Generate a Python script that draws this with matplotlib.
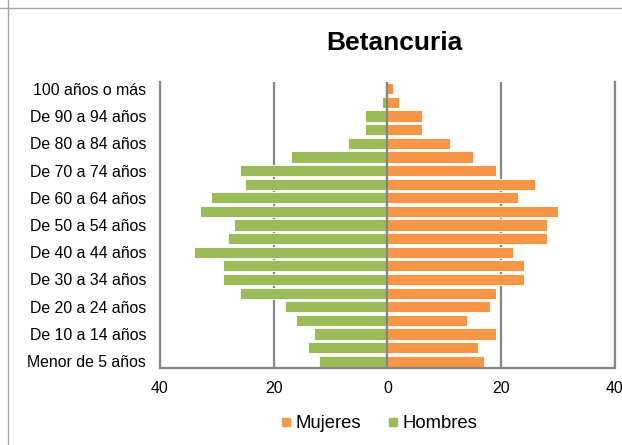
import matplotlib
matplotlib.use("Agg")
import matplotlib.pyplot as plt
from matplotlib.lines import Line2D
from matplotlib.ticker import FuncFormatter
import numpy as np

plt.rcParams['font.family'] = ['Liberation Sans', 'DejaVu Sans']

# Age groups, youngest first
age_groups = [
    "Menor de 5 años", "De 5 a 9 años", "De 10 a 14 años", "De 15 a 19 años",
    "De 20 a 24 años", "De 25 a 29 años", "De 30 a 34 años", "De 35 a 39 años",
    "De 40 a 44 años", "De 45 a 49 años", "De 50 a 54 años", "De 55 a 59 años",
    "De 60 a 64 años", "De 65 a 69 años", "De 70 a 74 años", "De 75 a 79 años",
    "De 80 a 84 años", "De 85 a 89 años", "De 90 a 94 años", "De 95 a 99 años",
    "100 años o más",
]
mujeres = [17, 16, 19, 14, 18, 19, 24, 24, 22, 28, 28, 30, 23, 26, 19, 15, 11, 6, 6, 2, 1]
hombres = [12, 14, 13, 16, 18, 26, 29, 29, 34, 28, 27, 33, 31, 25, 26, 17, 7, 4, 4, 1, 0]
x_ticks = [-40, -20, 0, 20, 40]

orange = "#F79646"
green = "#9BBB59"
grid_gray = "#868686"

fig = plt.figure(figsize=(6.22, 4.45), dpi=100)
ax = fig.add_axes([0.2572, 0.173, 0.7315, 0.6427])

y = np.arange(len(age_groups))
ax.barh(y, mujeres, height=0.82, color=orange, edgecolor="white", linewidth=0.6, zorder=2)
ax.barh(y, [-v for v in hombres], height=0.82, color=green, edgecolor="white", linewidth=0.6, zorder=2)

ax.set_xlim(-40, 40)
ax.set_ylim(-0.5, len(age_groups) - 0.5)
ax.set_xticks(x_ticks)
ax.xaxis.set_major_formatter(FuncFormatter(lambda v, p: f"{abs(int(v))}"))
ax.set_yticks(y[::2])
ax.set_yticklabels(age_groups[::2])
ax.tick_params(axis="both", length=0, labelsize=11.4, colors="black")
ax.tick_params(axis="x", pad=9)
ax.tick_params(axis="y", pad=10)

ax.xaxis.grid(True, color=grid_gray, linewidth=1.6, zorder=0)
ax.set_axisbelow(True)
ax.axvline(0, color=grid_gray, linewidth=1.6, zorder=3)

ax.spines["top"].set_visible(False)
for side in ("left", "right", "bottom"):
    ax.spines[side].set_color(grid_gray)
    ax.spines[side].set_linewidth(1.6)

fig.text(394.5 / 622, 1 - 50 / 445, "Betancuria", ha="center", va="baseline",
         fontsize=19, fontweight="bold")

handles = [
    Line2D([0], [0], marker="s", linestyle="none", markersize=6,
           markerfacecolor=orange, markeredgecolor=orange, label="Mujeres"),
    Line2D([0], [0], marker="s", linestyle="none", markersize=6,
           markerfacecolor=green, markeredgecolor=green, label="Hombres"),
]
fig.legend(handles=handles, loc="center", bbox_to_anchor=(377.5 / 622, 1 - 424 / 445), ncol=2,
           frameon=False, fontsize=13.3, handletextpad=0.05, columnspacing=1.3,
           handlelength=0.9, borderpad=0.0)

# Sheet cell borders around the chart
fig.add_artist(Line2D([0, 1], [1 - 8 / 445, 1 - 8 / 445], color="#a6a6a6", linewidth=1.0))
fig.add_artist(Line2D([8 / 622, 8 / 622], [0, 1], color="#a6a6a6", linewidth=1.0))

fig.savefig("out.png", dpi=100)
